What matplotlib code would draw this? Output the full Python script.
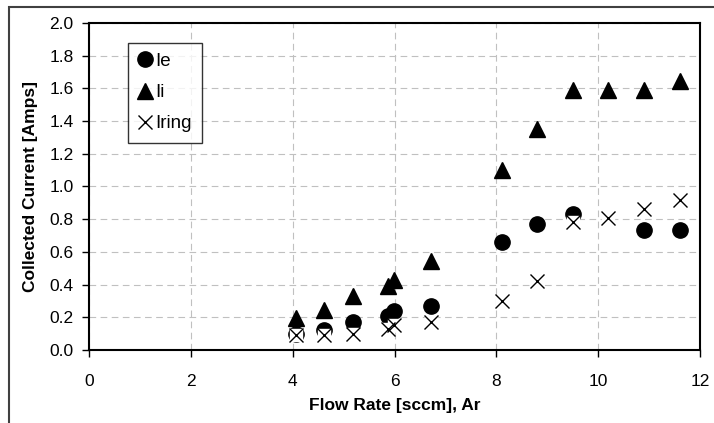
import numpy as np
import matplotlib.pyplot as plt
from matplotlib.patches import Rectangle

plt.rcParams['font.family'] = ['Liberation Sans', 'DejaVu Sans']

# 数据
flow = [4.07, 4.61, 5.18, 5.87, 5.99, 6.71, 8.11, 8.80, 9.51, 10.20, 10.90, 11.60]
ie = [0.10, 0.12, 0.17, 0.21, 0.24, 0.27, 0.66, 0.77, 0.83, None, 0.735, 0.735]
ii = [0.195, 0.245, 0.33, 0.39, 0.43, 0.545, 1.10, 1.35, 1.59, 1.59, 1.59, 1.645]
iring = [0.09, 0.09, 0.10, 0.13, 0.15, 0.17, 0.30, 0.42, 0.785, 0.81, 0.86, 0.915]

xticks = [0, 2, 4, 6, 8, 10, 12]
yticks = [0.0, 0.2, 0.4, 0.6, 0.8, 1.0, 1.2, 1.4, 1.6, 1.8, 2.0]

fig = plt.figure(figsize=(7.14, 4.23), dpi=100)
ax = fig.add_axes([89 / 714, 1 - 350 / 423, 611 / 714, 327 / 423])

# 外框
fig.patches.append(Rectangle((9 / 714, -0.1), 1.2, 1.1 - 7 / 423,
                             transform=fig.transFigure, fill=False,
                             edgecolor='#404040', linewidth=1.5))

ie_x = [x for x, v in zip(flow, ie) if v is not None]
ie_y = [v for v in ie if v is not None]

ax.plot(ie_x, ie_y, 'o', color='black', markersize=11, linestyle='none',
        label='Ie', zorder=3)
ax.plot(flow, ii, '^', color='black', markersize=11, linestyle='none',
        label='Ii', zorder=4)
# X 标记带白色底 (类似Excel)
ax.plot(flow, iring, 's', color='white', markersize=9, linestyle='none', zorder=5)
ax.plot(flow, iring, 'x', color='black', markersize=10, markeredgewidth=1.0,
        linestyle='none', label='Iring', zorder=6)

ax.set_xlim(0, 12)
ax.set_ylim(0, 2.0)
ax.set_xticks(xticks)
ax.set_yticks(yticks)
ax.set_yticklabels([f'{v:.1f}' for v in yticks])
ax.tick_params(direction='out', length=5, width=1, labelsize=12.5)
ax.tick_params(axis='x', pad=12)
ax.tick_params(axis='y', pad=6)

ax.grid(True, color='#c0c0c0', linestyle=(0, (6, 4)), linewidth=0.8)
ax.set_axisbelow(True)
for s in ax.spines.values():
    s.set_linewidth(1.5)

ax.set_xlabel('Flow Rate [sccm], Ar', fontsize=12.5, fontweight='bold', labelpad=7)
ax.set_ylabel('Collected Current [Amps]', fontsize=12.5, fontweight='bold', labelpad=8)

leg = ax.legend(loc='upper left', bbox_to_anchor=(0.064, 0.94), fontsize=13.5,
                frameon=True, fancybox=False, edgecolor='black',
                handlelength=0.7, handletextpad=0.2, borderpad=0.55,
                labelspacing=0.75, borderaxespad=0)
leg.get_frame().set_linewidth(1.0)

fig.savefig('out.png', dpi=100)
